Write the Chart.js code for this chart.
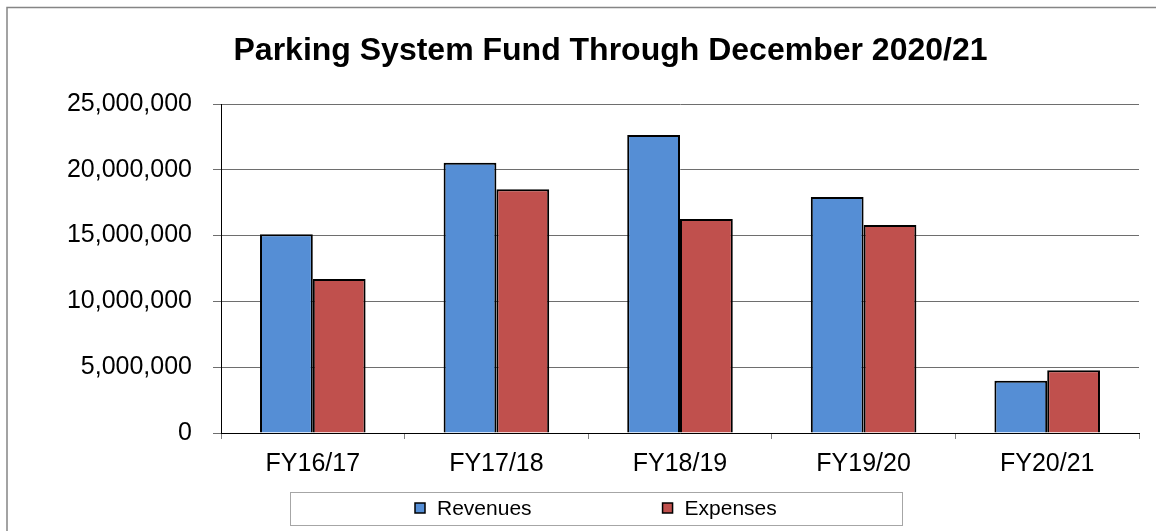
<!DOCTYPE html>
<html>
<head>
<meta charset="utf-8">
<title>Parking System Fund</title>
<script src="https://cdn.jsdelivr.net/npm/chart.js@4"></script>
<style>
  body { margin: 0; background: #fff; overflow: hidden; }
  #wrap { position: relative; width: 1156px; height: 531px; }
</style>
</head>
<body>
<div id="wrap"><canvas id="myChart"></canvas></div>
<script>
const categories = ['FY16/17', 'FY17/18', 'FY18/19', 'FY19/20', 'FY20/21'];
const revenues = [15100000, 20540000, 22640000, 17930000, 3970000];
const expenses = [11700000, 18520000, 16260000, 15800000, 4760000];
const yMax = 25000000;
const yStep = 5000000;

const FONT = '"Liberation Sans", Arial, sans-serif';

// grey frame round the chart and the boxed legend underneath
const decorations = {
    id: 'decorations',
    afterLayout (chart) {
        // title sits a bit right of the canvas centre in the original
        if (chart.titleBlock) {
            chart.titleBlock.left += 11;
            chart.titleBlock.right += 11;
        }
    },
    beforeDraw (chart) {
        const ctx = chart.ctx;
        ctx.save();
        ctx.fillStyle = '#fff';
        ctx.fillRect(0, 0, chart.width, chart.height);
        ctx.strokeStyle = '#858585';
        ctx.lineWidth = 1.5;
        ctx.beginPath();
        ctx.moveTo(7, chart.height);
        ctx.lineTo(7, 7.5);
        ctx.lineTo(chart.width, 7.5);
        ctx.stroke();
        ctx.restore();
    },
    afterDraw (chart) {
        const ctx = chart.ctx;
        ctx.save();
        ctx.strokeStyle = '#a6a6a6';
        ctx.lineWidth = 1;
        ctx.strokeRect(290.5, 492.5, 612, 33);
        ctx.font = '21px ' + FONT;
        ctx.textBaseline = 'middle';
        let x = 415;
        chart.data.datasets.forEach(ds => {
            ctx.fillStyle = ds.backgroundColor;
            ctx.fillRect(x, 503, 10, 10);
            ctx.strokeStyle = '#000';
            ctx.lineWidth = 1.5;
            ctx.strokeRect(x, 503, 10, 10);
            ctx.fillStyle = '#000';
            ctx.fillText(ds.label, x + 22, 509);
            x += 22 + ctx.measureText(ds.label).width + 131;
        });
        ctx.restore();
    }
};

function chart () {
    const ctx = document.getElementById('myChart').getContext('2d');
    new Chart(ctx, {
        type: 'bar',
        data: {
            labels: categories,
            datasets: [{
                label: 'Revenues',
                data: revenues,
                backgroundColor: '#558ed5',
                borderColor: '#000',
                borderWidth: 2,
                categoryPercentage: 0.575,
                barPercentage: 1
            }, {
                label: 'Expenses',
                data: expenses,
                backgroundColor: '#c0504d',
                borderColor: '#000',
                borderWidth: 2,
                categoryPercentage: 0.575,
                barPercentage: 1
            }]
        },
        options: {
            responsive: true,
            maintainAspectRatio: false,
            animation: false,
            layout: { padding: { left: 60, right: 17, top: 0, bottom: 0 } },
            plugins: {
                legend: { display: false },
                tooltip: { enabled: false },
                title: {
                    display: true,
                    text: 'Parking System Fund Through December 2020/21',
                    color: '#000',
                    font: { family: FONT, size: 32, weight: 'bold' },
                    padding: { top: 32, bottom: 33.6 }
                }
            },
            scales: {
                x: {
                    afterFit (scale) { scale.height = 98; },
                    grid: {
                        offset: true,
                        drawOnChartArea: false,
                        drawTicks: true,
                        tickLength: 6,
                        color: '#808080'
                    },
                    border: { color: '#000', width: 1 },
                    ticks: {
                        color: '#000',
                        padding: 10,
                        font: { family: FONT, size: 25 }
                    }
                },
                y: {
                    min: 0,
                    max: yMax,
                    afterFit (scale) { scale.width = 161; },
                    grid: {
                        color: '#6e6e6e',
                        lineWidth: 1,
                        tickLength: 8
                    },
                    border: { color: '#000', width: 1 },
                    ticks: {
                        stepSize: yStep,
                        color: '#000',
                        padding: 21,
                        font: { family: FONT, size: 25 },
                        callback: v => v.toLocaleString('en-US')
                    }
                }
            }
        },
        plugins: [decorations]
    });
}

window.onload = chart;
</script>
</body>
</html>
